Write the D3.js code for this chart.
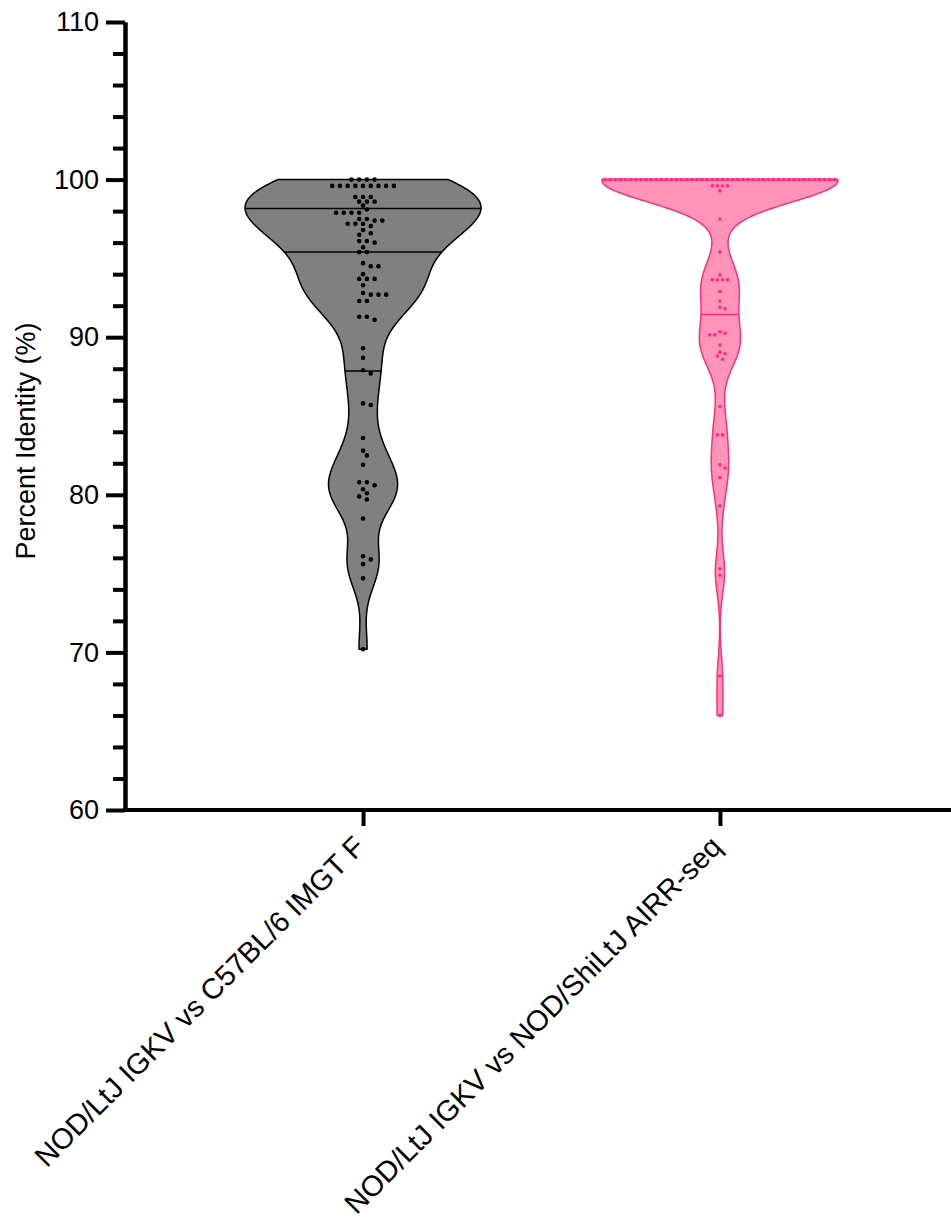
<!DOCTYPE html>
<html>
<head>
<meta charset="utf-8">
<script src="https://cdn.jsdelivr.net/npm/d3@7"></script>
<style>
  html, body { margin: 0; padding: 0; background: #fff; }
  svg { display: block; }
  text { font-family: Arial, "Liberation Sans", Helvetica, sans-serif; fill: #000; }
</style>
</head>
<body>
<svg id="chart" width="951" height="1223"></svg>
<script>
// Percent identity of NOD/LtJ IGKV genes against two references
const categories = [
  "NOD/LtJ IGKV vs C57BL/6 IMGT F",
  "NOD/LtJ IGKV vs NOD/ShiLtJ AIRR-seq"
];

const imgtValues = [
  100, 100, 100, 100,
  99.6, 99.6, 99.6, 99.6, 99.6, 99.6, 99.6, 99.6, 99.6,
  98.9, 98.9, 98.9,
  98.6, 98.6, 98.6,
  98.35, 98.1,
  97.9, 97.9, 97.9, 97.9,
  97.5, 97.5,
  97.4, 97.4,
  97.2, 97.2, 97.2,
  97.05, 96.8, 96.6, 96.5,
  96.1, 96.1, 96.0, 95.7, 95.4, 95.4,
  94.7, 94.5, 94.5, 94.0, 93.7, 93.7, 93.7, 93.3,
  92.8, 92.7, 92.7, 92.7, 92.3, 92.3, 91.3, 91.3, 91.1,
  89.3, 88.7, 87.9, 87.7, 85.8, 85.7, 83.6, 82.8, 82.5, 81.9,
  80.8, 80.8, 80.6, 80.35, 80.1, 79.9, 79.7, 78.5,
  76.1, 75.9, 75.6, 74.7, 70.2
];

const airrTopCount = 46; // genes with an identical AIRR-seq allele
const airrValues = Array(airrTopCount).fill(100).concat([
  99.6, 99.6, 99.6, 99.6, 99.3, 97.5, 95.4,
  93.95, 93.65, 93.65, 93.65, 93.65, 92.9, 92.3, 91.9, 91.8,
  90.35, 90.25, 90.15, 90.15, 89.5, 89.05, 88.95, 88.8, 88.6,
  85.6, 83.8, 83.8, 81.9, 81.7, 81.1, 79.3, 75.3, 74.9, 68.5, 66.0
]);

const seriesValues = [imgtValues, airrValues];

// kernel smoothing (percentage points) used for each violin outline
const smoothing = [1.5, 1.35];

const yTicksMajor = [60, 70, 80, 90, 100, 110];
const yTicksMinor = [62, 64, 66, 68, 72, 74, 76, 78, 82, 84, 86, 88, 92, 94, 96, 98, 102, 104, 106, 108];

// Styling per series
const styles = [
  { fill: "#808080", stroke: "#000000", dot: "#000000", r: 2.3, spacing: 7.7 },
  { fill: "#FF93B8", stroke: "#FF2E7D", dot: "#FF2E7D", r: 1.8, spacing: 5.1 }
];

const svg = d3.select("#chart");

const y = d3.scaleLinear().domain([60, 110]).range([810, 22]);
const x = d3.scalePoint().domain(categories).range([125, 958]).padding(0.667);

const maxHalfWidth = 118;

// Quartiles with the (n+1)p rank convention
function quantileRank(sorted, p) {
  const n = sorted.length;
  const pos = (n + 1) * p;
  if (pos <= 1) return sorted[0];
  if (pos >= n) return sorted[n - 1];
  const lo = Math.floor(pos);
  const f = pos - lo;
  return sorted[lo - 1] + f * (sorted[lo] - sorted[lo - 1]);
}

function kde(values, h) {
  return v => d3.sum(values, xi => Math.exp(-0.5 * ((v - xi) / h) ** 2));
}

const plot = svg.append("g");

seriesValues.forEach((vals, i) => {
  const st = styles[i];
  const cx = x(categories[i]);
  const sorted = vals.slice().sort(d3.ascending);
  const lo = sorted[0], hi = sorted[sorted.length - 1];
  const dens = kde(vals, smoothing[i]);
  const steps = 400;
  const samples = d3.range(steps + 1).map(k => {
    const v = lo + (hi - lo) * k / steps;
    return { v, d: dens(v) };
  });
  const dMax = d3.max(samples, s => s.d);
  const w = d3.scaleLinear().domain([0, dMax]).range([0, maxHalfWidth]);

  const area = d3.area()
    .y(s => y(s.v))
    .x0(s => cx - w(s.d))
    .x1(s => cx + w(s.d))
    .curve(d3.curveLinear);

  plot.append("path")
    .datum(samples)
    .attr("d", area)
    .attr("fill", st.fill)
    .attr("stroke", st.stroke)
    .attr("stroke-width", 1.5)
    .attr("stroke-linejoin", "round");

  // median and quartile lines
  const qs = [0.25, 0.5, 0.75].map(p => quantileRank(sorted, p));
  qs.forEach(q => {
    const hw = w(dens(q));
    plot.append("line")
      .attr("x1", cx - hw).attr("x2", cx + hw)
      .attr("y1", y(q)).attr("y2", y(q))
      .attr("stroke", st.stroke)
      .attr("stroke-width", 1.5);
  });

  // dots: rows of equal values, centred, nudged sideways to avoid overlaps
  const groups = d3.groups(vals, v => v).sort((a, b) => b[0] - a[0]);
  const placed = [];
  const minDist = st.r * 2 + 0.6;
  groups.forEach(([v, arr]) => {
    const k = arr.length;
    const py = y(v);
    const base = d3.range(k).map(j => (j - (k - 1) / 2) * st.spacing);
    const shifts = [0];
    for (let s = 1; s <= 12; s++) { shifts.push(s * st.spacing / 2, -s * st.spacing / 2); }
    let chosen = 0;
    for (const sh of shifts) {
      const ok = base.every(b => placed.every(p => Math.hypot(p.x - (cx + b + sh), p.y - py) >= minDist));
      if (ok) { chosen = sh; break; }
    }
    base.forEach(b => placed.push({ x: cx + b + chosen, y: py }));
  });

  plot.append("g").selectAll("circle")
    .data(placed)
    .join("circle")
    .attr("cx", p => p.x)
    .attr("cy", p => p.y)
    .attr("r", st.r)
    .attr("fill", st.dot);
});

// Y axis
const yAxisMajor = d3.axisLeft(y).tickValues(yTicksMajor).tickSize(19).tickSizeOuter(0).tickPadding(7);
const yAxisMinor = d3.axisLeft(y).tickValues(yTicksMinor).tickSize(12).tickSizeOuter(0).tickFormat("");

const gyMinor = svg.append("g").attr("transform", "translate(125,0)").call(yAxisMinor);
const gy = svg.append("g").attr("transform", "translate(125,0)").call(yAxisMajor);
[gy, gyMinor].forEach(g => {
  g.select(".domain").attr("stroke", "#000").attr("stroke-width", 4);
  g.selectAll(".tick line").attr("stroke", "#000").attr("stroke-width", 4);
});
gy.selectAll(".tick text")
  .attr("font-size", 27)
  .attr("fill", "#000")
  .style("font-family", "Arial, 'Liberation Sans', sans-serif");

// X axis
const xAxis = d3.axisBottom(x).tickSize(16).tickSizeOuter(0).tickFormat("");
const gx = svg.append("g").attr("transform", "translate(0,810)").call(xAxis);
gx.select(".domain").attr("d", "M123,0H951").attr("stroke", "#000").attr("stroke-width", 4);
gx.selectAll(".tick line").attr("stroke", "#000").attr("stroke-width", 4);

svg.append("g").selectAll("text")
  .data(categories)
  .join("text")
  .attr("transform", d => `translate(${x(d) - 11},${834}) rotate(-45)`)
  .attr("text-anchor", "end")
  .attr("dy", "0.71em")
  .attr("font-size", 29)
  .text(d => d);

// Y axis title
svg.append("text")
  .attr("transform", "translate(35,441) rotate(-90)")
  .attr("text-anchor", "middle")
  .attr("font-size", 27)
  .text("Percent Identity (%)");
</script>
</body>
</html>
